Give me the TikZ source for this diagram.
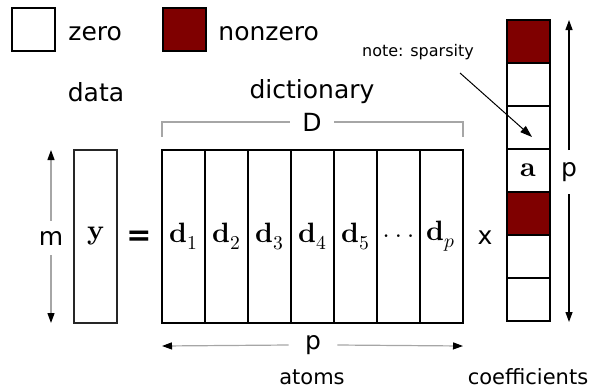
\documentclass[tikz,border=0pt]{standalone}
\usepackage{fontspec}
\setmainfont{DejaVu Sans}
\usepackage{unicode-math}
\setmathfont{Latin Modern Math}
\usetikzlibrary{arrows.meta}
\definecolor{nzred}{HTML}{7F0000}
\begin{document}
\begin{tikzpicture}[x=0.5pt,y=-0.5pt,
  cell/.style={draw=black,line width=1pt,minimum width=21.5pt,minimum height=21.5pt,inner sep=0pt,outer sep=0pt},
  lbl/.style={font=\fontsize{12.5}{15}\selectfont,inner sep=0pt},
  mlbl/.style={font=\fontsize{14}{16}\selectfont,inner sep=0pt},
  small/.style={font=\fontsize{10.5}{13}\selectfont,inner sep=0pt},
  tip/.style={-{Triangle[length=5pt,width=3.5pt,color=black]}},
  dim/.style={draw=gray!70,line width=0.6pt,tip},
  col/.style={draw=black,line width=0.8pt,minimum width=21.5pt,minimum height=86.5pt,inner sep=0pt,outer sep=0pt,anchor=north west}]
\useasboundingbox (0,0) rectangle (592,391);
% legend
\node[cell,anchor=north west] (lz) at (12,8) {};
\node[lbl,anchor=west] (tz) at (68,34) {zero};
\node[cell,anchor=north west,fill=nzred] (ln) at (163,8) {};
\node[lbl,anchor=west] (tn) at (218,34) {nonzero};
% headings
\node[lbl] (hdata) at (96,92) {data};
\node[lbl] (hdict) at (312,92) {dictionary};
% data vector
\node[col,draw=black!85] (y) at (74,150) {};
\node[mlbl] at (y.center) {$\symbfup{y}$};
\coordinate (mt) at (51,150);
\coordinate (mb) at (51,323);
\node[lbl,inner ysep=5pt] (m) at (51,238) {m};
\draw[dim] (m.north) -- (mt);
\draw[dim] (m.south) -- (mb);
\node[font=\fontsize{15}{17}\bfseries\selectfont,inner sep=0pt] (eq) at (139,238) {=};
% dictionary columns
\foreach \i/\t [count=\k from 0] in {1/$\symbfup{d}_1$,2/$\symbfup{d}_2$,3/$\symbfup{d}_3$,4/$\symbfup{d}_4$,5/$\symbfup{d}_5$,6/$\mathinner{\ldotp\ldotp\ldotp}$,7/$\symbfup{d}_p$}{
  \node[col] (d\i) at ({162+43*\k},150) {};
  \node[mlbl] at (d\i.center) {\t};
}
\draw[line width=1.2pt] (d1.north west) rectangle (d7.south east);
% bracket D
\coordinate (bl) at (162,137);
\coordinate (br) at (463,137);
\node[lbl,inner xsep=6pt] (D) at (312,122) {D};
\draw[gray!70,line width=0.6pt] (D.west) -- (162,122) -- (bl);
\draw[gray!70,line width=0.6pt] (D.east) -- (463,122) -- (br);
% atoms dimension
\node[lbl,inner xsep=8pt] (pb) at (313,345) {p};
\coordinate (al) at (162,346);
\coordinate (ar) at (463,346);
\draw[dim] (pb.west) -- (al);
\draw[dim] (pb.east) -- (ar);
\node[small] (atoms) at (312,377) {atoms};
\node[lbl] (times) at (485,238) {x};
% coefficient vector
\foreach \k/\f in {1/nzred,2/white,3/white,4/white,5/nzred,6/white,7/white}{
  \node[cell,anchor=north west,fill=\f] (c\k) at (507,{20+43*(\k-1)}) {};
}
\node[mlbl] at (c4.center) {$\symbfup{a}$};
\coordinate (pt) at (569,20);
\coordinate (pbm) at (569,322);
\node[lbl,inner ysep=6pt] (pr) at (569,172) {p};
\draw[dim,draw=black] (pr.north) -- (pt);
\draw[dim,draw=black] (pr.south) -- (pbm);
\node[small] (coef) at (528,377) {coefficients};
% annotation
\node[font=\fontsize{8}{10}\selectfont,inner sep=1pt] (note) at (418,52) {note: sparsity};
\coordinate (nt) at (532,137);
\draw[line width=0.5pt,-{Triangle[length=6pt,width=4pt]}] (460,73) -- (nt);
\end{tikzpicture}
\end{document}
